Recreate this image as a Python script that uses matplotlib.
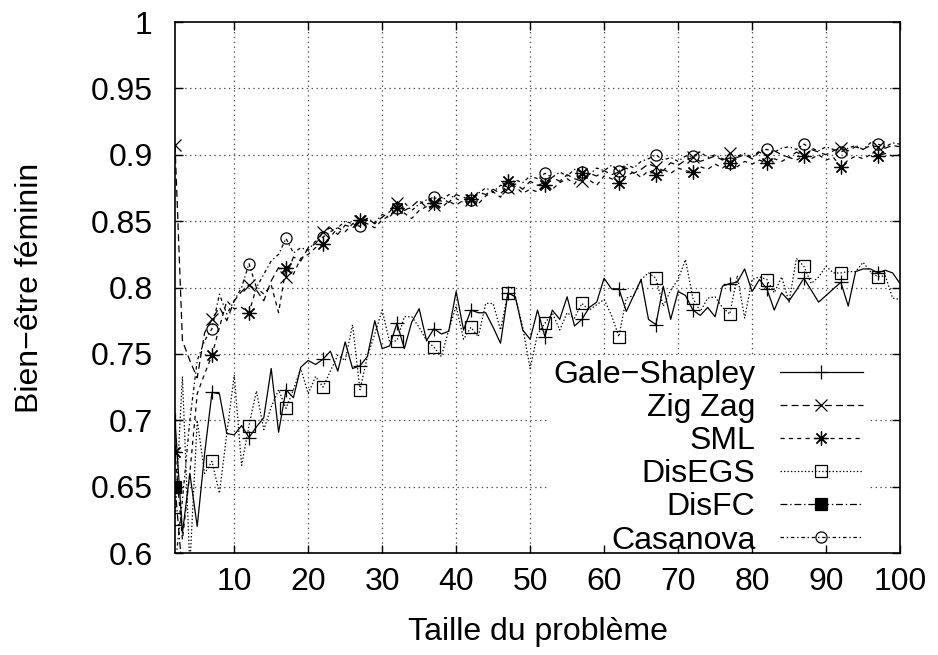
import numpy as np
import matplotlib
matplotlib.use('Agg')
import matplotlib.pyplot as plt

plt.rcParams['font.family'] = ['Liberation Sans', 'DejaVu Sans']
plt.rcParams['font.size'] = 23
plt.rcParams['lines.scale_dashes'] = False

# problem sizes 2..100
taille = np.arange(2, 101)

gale_shapley = [
    0.700, 0.615, 0.660, 0.620, 0.675, 0.721, 0.720, 0.690, 0.689, 0.696,
    0.687, 0.695, 0.702, 0.739, 0.691, 0.723, 0.717, 0.740, 0.745, 0.742,
    0.746, 0.752, 0.737, 0.759, 0.739, 0.741, 0.748, 0.775, 0.754, 0.756,
    0.773, 0.754, 0.774, 0.784, 0.760, 0.769, 0.765, 0.767, 0.797, 0.768,
    0.783, 0.781, 0.781, 0.770, 0.758, 0.796, 0.793, 0.768, 0.761, 0.783,
    0.763, 0.783, 0.776, 0.793, 0.771, 0.776, 0.785, 0.789, 0.807, 0.799,
    0.799, 0.782, 0.794, 0.806, 0.776, 0.772, 0.801, 0.776, 0.797, 0.794,
    0.783, 0.779, 0.785, 0.778, 0.801, 0.803, 0.804, 0.814, 0.797, 0.806,
    0.799, 0.783, 0.796, 0.790, 0.798, 0.807, 0.798, 0.789, 0.794, 0.799,
    0.804, 0.786, 0.812, 0.814, 0.814, 0.811, 0.813, 0.811, 0.803]

zig_zag = [
    0.907, 0.760, 0.745, 0.732, 0.766, 0.776, 0.785, 0.775, 0.790, 0.797,
    0.802, 0.798, 0.790, 0.805, 0.815, 0.808, 0.823, 0.820, 0.830, 0.833,
    0.842, 0.845, 0.840, 0.847, 0.845, 0.850, 0.852, 0.848, 0.853, 0.857,
    0.864, 0.858, 0.861, 0.866, 0.860, 0.862, 0.868, 0.864, 0.870, 0.868,
    0.866, 0.872, 0.870, 0.874, 0.871, 0.875, 0.878, 0.874, 0.880, 0.877,
    0.879, 0.883, 0.880, 0.885, 0.882, 0.880, 0.886, 0.884, 0.888, 0.885,
    0.887, 0.890, 0.886, 0.889, 0.893, 0.891, 0.888, 0.894, 0.892, 0.896,
    0.898, 0.895, 0.897, 0.899, 0.896, 0.901, 0.898, 0.900, 0.897, 0.902,
    0.899, 0.903, 0.900, 0.898, 0.902, 0.899, 0.904, 0.902, 0.900, 0.903,
    0.905, 0.903, 0.906, 0.904, 0.907, 0.906, 0.905, 0.907, 0.906]

sml = [
    0.676, 0.610, 0.660, 0.720, 0.735, 0.749, 0.770, 0.790, 0.784, 0.785,
    0.781, 0.800, 0.795, 0.802, 0.781, 0.815, 0.810, 0.822, 0.825, 0.830,
    0.833, 0.838, 0.845, 0.842, 0.848, 0.851, 0.848, 0.845, 0.851, 0.854,
    0.860, 0.856, 0.852, 0.858, 0.861, 0.864, 0.860, 0.865, 0.862, 0.866,
    0.867, 0.863, 0.869, 0.872, 0.868, 0.880, 0.876, 0.871, 0.874, 0.872,
    0.877, 0.874, 0.879, 0.882, 0.878, 0.886, 0.881, 0.877, 0.884, 0.882,
    0.879, 0.884, 0.887, 0.883, 0.888, 0.885, 0.889, 0.886, 0.890, 0.888,
    0.887, 0.891, 0.889, 0.893, 0.890, 0.894, 0.891, 0.895, 0.893, 0.896,
    0.894, 0.897, 0.895, 0.898, 0.896, 0.899, 0.897, 0.900, 0.896, 0.898,
    0.891, 0.896, 0.899, 0.897, 0.900, 0.899, 0.901, 0.899, 0.900]

dis_egs = [
    0.626, 0.733, 0.590, 0.700, 0.660, 0.669, 0.645, 0.690, 0.734, 0.666,
    0.696, 0.722, 0.693, 0.710, 0.723, 0.709, 0.723, 0.739, 0.720, 0.733,
    0.725, 0.737, 0.749, 0.745, 0.772, 0.723, 0.748, 0.765, 0.783, 0.759,
    0.760, 0.778, 0.778, 0.770, 0.760, 0.755, 0.748, 0.768, 0.786, 0.761,
    0.770, 0.763, 0.788, 0.788, 0.768, 0.796, 0.793, 0.770, 0.739, 0.765,
    0.773, 0.781, 0.768, 0.781, 0.777, 0.788, 0.783, 0.787, 0.791, 0.779,
    0.763, 0.792, 0.794, 0.806, 0.811, 0.807, 0.786, 0.798, 0.806, 0.821,
    0.792, 0.782, 0.792, 0.793, 0.785, 0.780, 0.809, 0.777, 0.806, 0.808,
    0.806, 0.796, 0.808, 0.789, 0.822, 0.816, 0.803, 0.808, 0.816, 0.811,
    0.811, 0.812, 0.812, 0.819, 0.812, 0.808, 0.809, 0.792, 0.791]

# DisFC: only its first point is inside the visible range
dis_fc_x = [2, 3, 4]
dis_fc = [0.650, 0.585, 0.570]

casanova = [
    0.590, 0.640, 0.700, 0.745, 0.760, 0.769, 0.795, 0.780, 0.790, 0.800,
    0.818, 0.800, 0.810, 0.820, 0.825, 0.837, 0.826, 0.830, 0.828, 0.835,
    0.838, 0.842, 0.845, 0.850, 0.848, 0.846, 0.852, 0.849, 0.855, 0.853,
    0.860, 0.864, 0.858, 0.863, 0.866, 0.868, 0.865, 0.870, 0.867, 0.864,
    0.866, 0.871, 0.875, 0.872, 0.877, 0.876, 0.881, 0.879, 0.884, 0.882,
    0.886, 0.883, 0.887, 0.884, 0.889, 0.887, 0.885, 0.890, 0.888, 0.892,
    0.888, 0.893, 0.890, 0.895, 0.897, 0.900, 0.896, 0.898, 0.895, 0.899,
    0.899, 0.902, 0.898, 0.900, 0.897, 0.894, 0.899, 0.901, 0.898, 0.903,
    0.904, 0.902, 0.905, 0.906, 0.904, 0.908, 0.905, 0.903, 0.906, 0.904,
    0.902, 0.905, 0.907, 0.904, 0.909, 0.908, 0.906, 0.909, 0.908]

x_ticks = list(range(10, 101, 10))
y_ticks = [0.6, 0.65, 0.7, 0.75, 0.8, 0.85, 0.9, 0.95, 1.0]
y_tick_labels = ['0.6', '0.65', '0.7', '0.75', '0.8', '0.85', '0.9', '0.95', '1']

fig = plt.figure(figsize=(9.38, 6.55), dpi=100)
ax = fig.add_axes([0.1866, 0.1557, 0.7729, 0.8107])

# (label, x, y, linestyle, marker, markerfacecolor, markersize)
series = [
    ('Gale\u2212Shapley', taille, gale_shapley, '-', '+', 'none', 10),
    ('Zig Zag', taille, zig_zag, (0, (5, 3)), 'x', 'none', 8),
    ('SML', taille, sml, (0, (3, 3)), (8, 2, 0), 'none', 10),
    ('DisEGS', taille, dis_egs, (0, (1, 1.5)), 's', 'none', 8),
    ('DisFC', dis_fc_x, dis_fc, (0, (5, 2, 1, 2)), 's', 'black', 8),
    ('Casanova', taille, casanova, (0, (2.5, 2, 1, 2)), 'o', 'none', 8),
]
for label, xs, ys, ls, mk, mfc, ms in series:
    ax.plot(xs, ys, color='black', lw=0.9, ls=ls, marker=mk, markevery=5,
            ms=ms, mfc=mfc, mec='black', mew=0.9, label=label, zorder=2)

# dotted grid
for v in y_ticks[1:-1]:
    ax.axhline(v, color='0.3', lw=0.9, ls=(0, (1, 2.5)), zorder=1)
for v in x_ticks[:-1]:
    ax.axvline(v, color='0.3', lw=0.9, ls=(0, (1, 2.5)), zorder=1)

ax.set_xlim(2, 100)
ax.set_ylim(0.6, 1.0)
ax.set_xticks(x_ticks)
ax.set_yticks(y_ticks)
ax.set_yticklabels(y_tick_labels)
ax.tick_params(direction='in', length=6, width=1, top=True, right=True)
ax.tick_params(axis='y', pad=16)
ax.tick_params(axis='x', pad=10)
for sp in ax.spines.values():
    sp.set_linewidth(1.2)
    sp.set_zorder(6)
ax.xaxis.set_zorder(6)
ax.yaxis.set_zorder(6)

ax.set_xlabel('Taille du probl\u00e8me')
ax.xaxis.set_label_coords(0.5, -0.149)
ax.xaxis.label.set_va('center')
ax.set_ylabel('Bien\u2212\u00eatre f\u00e9minin')
ax.yaxis.set_label_coords(-0.2, 0.5)
ax.yaxis.label.set_va('center')

leg = ax.legend(loc='lower right', bbox_to_anchor=(0.955, -0.014),
                markerfirst=False, frameon=True, fancybox=False,
                edgecolor='none', facecolor='white', framealpha=1,
                handlelength=2.6, handletextpad=0.75, labelspacing=0.1,
                borderpad=0.15, borderaxespad=0)
leg.set_zorder(5)

fig.savefig('out.png', dpi=100)
